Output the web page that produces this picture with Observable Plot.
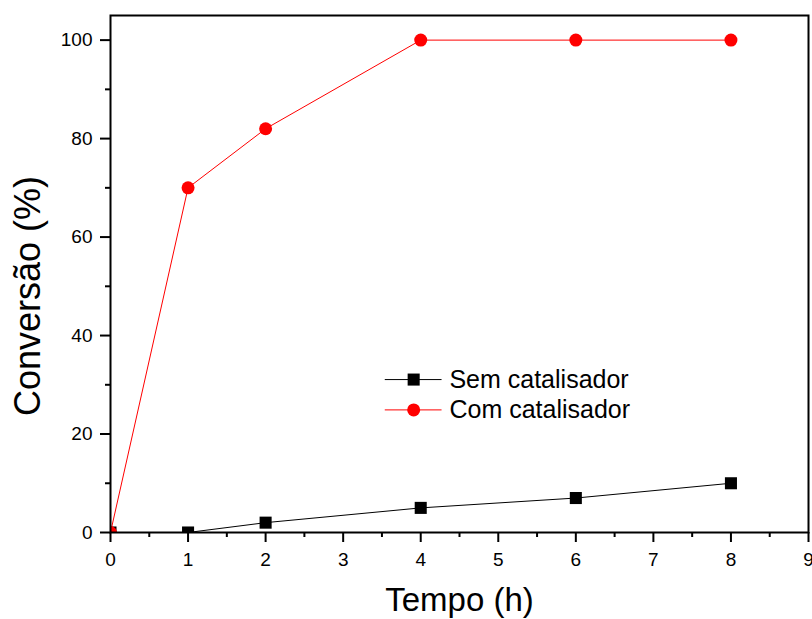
<!DOCTYPE html>
<html>
<head>
<meta charset="utf-8">
<script src="https://cdn.jsdelivr.net/npm/d3@7"></script>
<script src="https://cdn.jsdelivr.net/npm/@observablehq/plot@0.6"></script>
<style>
  html, body { margin: 0; padding: 0; background: #fff; }
  #chart svg { display: block; }
</style>
</head>
<body>
<div id="chart"></div>
<script>
const tempo = [0, 1, 2, 4, 6, 8];
const semCatalisador = [0, 0, 2, 5, 7, 10];
const comCatalisador = [0, 70, 82, 100, 100, 100];
const xTicks = [0, 1, 2, 3, 4, 5, 6, 7, 8, 9];
const xMinor = [0.5, 1.5, 2.5, 3.5, 4.5, 5.5, 6.5, 7.5, 8.5];
const yTicks = [0, 20, 40, 60, 80, 100];
const yMinor = [10, 30, 50, 70, 90];
const seriesNames = ["Sem catalisador", "Com catalisador"];

const sem = tempo.map((t, i) => ({x: t, y: semCatalisador[i]}));
const com = tempo.map((t, i) => ({x: t, y: comCatalisador[i]}));

// legend placed in data coordinates
const legendX = [3.543, 4.275];
const legendMarkX = 3.909;
const legendTextX = 4.37;
const legendY = [31.06, 24.9];
const legendLines = [
  {x1: legendX[0], x2: legendX[1], y: legendY[0]},
  {x1: legendX[0], x2: legendX[1], y: legendY[1]}
];

const plot = Plot.plot({
  width: 812,
  height: 619,
  marginLeft: 110,
  marginRight: 4,
  marginTop: 15,
  marginBottom: 87,
  style: {fontFamily: "Arial, 'Liberation Sans', sans-serif", background: "#fff"},
  x: {domain: [0, 9]},
  y: {domain: [0, 105]},
  marks: [
    Plot.axisX({ticks: xMinor, tickSize: 5, text: null, strokeWidth: 2, label: null}),
    Plot.axisX({ticks: xTicks, tickSize: 10, tickPadding: 10, fontSize: 19, strokeWidth: 2, label: "Tempo (h)", labelAnchor: "center", labelArrow: "none", labelOffset: 78}),
    Plot.axisY({ticks: yMinor, tickSize: 5, text: null, strokeWidth: 2, label: null}),
    Plot.axisY({ticks: yTicks, tickSize: 10, tickPadding: 8, fontSize: 19, strokeWidth: 2, label: "Conversão (%)", labelAnchor: "center", labelArrow: "none", labelOffset: 92}),
    Plot.line(sem, {x: "x", y: "y", stroke: "black", strokeWidth: 1, clip: true}),
    Plot.dot(sem, {x: "x", y: "y", symbol: "square", r: 6.8, fill: "black", stroke: "none", clip: true}),
    Plot.line(com, {x: "x", y: "y", stroke: "#ff0000", strokeWidth: 1, clip: true}),
    Plot.dot(com, {x: "x", y: "y", symbol: "circle", r: 6.5, fill: "#ff0000", stroke: "none", clip: true}),
    Plot.frame({stroke: "black", strokeWidth: 2}),
    Plot.ruleY([legendLines[0]], {x1: "x1", x2: "x2", y: "y", stroke: "black", strokeWidth: 1}),
    Plot.ruleY([legendLines[1]], {x1: "x1", x2: "x2", y: "y", stroke: "#ff0000", strokeWidth: 1}),
    Plot.dot([{x: legendMarkX, y: legendY[0]}], {x: "x", y: "y", symbol: "square", r: 6.8, fill: "black"}),
    Plot.dot([{x: legendMarkX, y: legendY[1]}], {x: "x", y: "y", symbol: "circle", r: 6.5, fill: "#ff0000"}),
    Plot.text(seriesNames.map((s, i) => ({x: legendTextX, y: legendY[i], s})), {x: "x", y: "y", text: "s", textAnchor: "start", fontSize: 25, fill: "black"})
  ]
});

// axis titles: size and position as in the reference
plot.querySelectorAll("[aria-label='x-axis label'] text").forEach(t => {
  t.setAttribute("font-size", "33");
  t.style.fontSize = "33px";
});
plot.querySelectorAll("[aria-label='y-axis label'] text").forEach(t => {
  t.setAttribute("font-size", "36");
  t.style.fontSize = "36px";
  const tr = t.getAttribute("transform") || "";
  t.setAttribute("transform", "translate(-4,22) " + tr);
});
document.getElementById("chart").appendChild(plot);
</script>
</body>
</html>
